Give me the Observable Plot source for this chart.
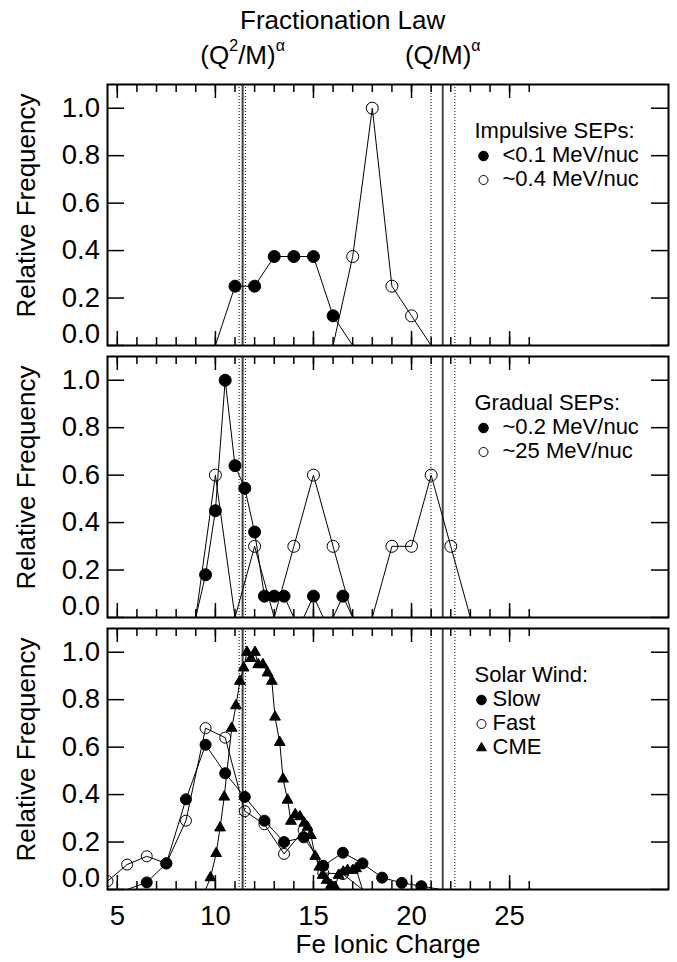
<!DOCTYPE html>
<html>
<head>
<meta charset="utf-8">
<script src="https://cdn.jsdelivr.net/npm/d3@7"></script>
<script src="https://cdn.jsdelivr.net/npm/@observablehq/plot@0.6"></script>
<style>
  html, body { margin: 0; padding: 0; background: #fff; overflow: hidden; }
  #chart { width: 677px; height: 962px; position: relative; }
  #chart svg { display: block; overflow: visible; }
</style>
</head>
<body>
<div id="chart"></div>
<script>
// ---------- data ----------
const xTickLabels = [5, 10, 15, 20, 25];
const xMinorTicks = [5, 6, 7, 8, 9, 10, 11, 12, 13, 14, 15, 16, 17, 18, 19, 20, 21, 22, 23, 24, 25, 26];
const yTicks = [0, 0.2, 0.4, 0.6, 0.8, 1.0];

const lawSolid = [11.39, 21.59];
const lawDotted = [11.21, 11.53, 20.99, 22.21];
const lawLabels = ["(Q^2/M)^α", "(Q/M)^α"];
const titleText = "Fractionation Law";
const yTitle = "Relative Frequency";
const xTitle = "Fe Ionic Charge";

// Panel 1: impulsive SEPs
const impulsiveTitle = "Impulsive SEPs:";
const impLowLabel = "<0.1 MeV/nuc";
const impLowCharge = [10, 11, 12, 13, 14, 15, 16, 17];
const impLowFreq = [0, 0.25, 0.25, 0.375, 0.375, 0.375, 0.125, 0];
const impHighLabel = "~0.4 MeV/nuc";
const impHighCharge = [16, 17, 18, 19, 20, 21];
const impHighFreq = [0, 0.375, 1.0, 0.25, 0.125, 0];

// Panel 2: gradual SEPs
const gradualTitle = "Gradual SEPs:";
const gradLowLabel = "~0.2 MeV/nuc";
const gradLowCharge = [9, 9.5, 10, 10.5, 11, 11.5, 12, 12.5, 13, 13.5, 14, 14.5, 15, 15.5, 16, 16.5, 17];
const gradLowFreq = [0, 0.18, 0.45, 1.0, 0.64, 0.545, 0.36, 0.09, 0.09, 0.09, 0, 0, 0.09, 0, 0, 0.09, 0];
const gradHighLabel = "~25 MeV/nuc";
const gradHighCharge = [9, 10, 11, 12, 13, 14, 15, 16, 17, 18, 19, 20, 21, 22, 23];
const gradHighFreq = [0, 0.6, 0, 0.3, 0, 0.3, 0.6, 0.3, 0, 0, 0.3, 0.3, 0.6, 0.3, 0];

// Panel 3: solar wind
const windTitle = "Solar Wind:";
const slowLabel = "Slow";
const slowCharge = [5.5, 6.5, 7.5, 8.5, 9.5, 10.5, 11.5, 12.5, 13.5, 14.5, 15.5, 16.5, 17.5, 18.5, 19.5, 20.5, 21.5];
const slowFreq = [0, 0.03, 0.11, 0.38, 0.61, 0.49, 0.39, 0.29, 0.20, 0.22, 0.10, 0.155, 0.11, 0.05, 0.028, 0.014, 0];
const fastLabel = "Fast";
const fastCharge = [3.5, 4.5, 5.5, 6.5, 7.5, 8.5, 9.5, 10.5, 11.5, 12.5, 13.5, 14.5, 15.5, 16.5, 17.5];
const fastFreq = [0, 0.035, 0.105, 0.14, 0.11, 0.29, 0.68, 0.64, 0.33, 0.275, 0.15, 0.25, 0.07, 0.065, 0];
const cmeLabel = "CME";
const cmeCharge = [9.5, 9.75, 10.04, 10.24, 10.45, 10.83, 11.05, 11.25, 11.44, 11.61, 11.81, 12.02, 12.18, 12.42, 12.66, 12.88, 13.04, 13.28, 13.45, 13.68, 13.85, 14.07, 14.31, 14.53, 14.7, 14.87, 15.09, 15.3, 15.47, 15.67, 15.89, 16.1, 16.28, 16.52, 16.74, 17.0, 17.17, 17.5];
const cmeFreq = [0, 0.05, 0.152, 0.26, 0.39, 0.68, 0.775, 0.878, 0.934, 1.0, 0.974, 1.0, 0.948, 0.948, 0.913, 0.878, 0.727, 0.62, 0.466, 0.377, 0.288, 0.316, 0.307, 0.28, 0.263, 0.228, 0.14, 0.095, 0.06, 0.039, 0.018, 0.01, 0.06, 0.074, 0.081, 0.081, 0.088, 0];

// ---------- layout ----------
const FONT = "'Liberation Sans', Arial, Helvetica, sans-serif";
const W = 677, ML = 107, MR = 9;
const xDomain = [4.5, 33.1];
const yDomain = [0, 1.1];
const TICKFONT = 27.5;

function pts(xs, ys) { return xs.map((x, i) => ({x, y: ys[i]})); }

function panel({series, legendTitle, markerDx, textDx, height, marginTop, marginBottom, isTop, isBottom}) {
  const frameH = height - marginTop - marginBottom;
  const frameW = W - ML - MR;
  const marks = [
    Plot.ruleX(lawDotted, {x: d => d, stroke: "#000", strokeWidth: 1, strokeDasharray: "1,2"}),
    Plot.ruleX(lawSolid, {x: d => d, stroke: "#444", strokeWidth: 2}),
    Plot.tickX(xMinorTicks, {x: d => d, insetBottom: frameH - 8, strokeWidth: 1.5}),
    Plot.tickX(xMinorTicks, {x: d => d, insetTop: frameH - 8, strokeWidth: 1.5}),
    Plot.tickX(xTickLabels, {x: d => d, insetBottom: frameH - 14, strokeWidth: 1.5}),
    Plot.tickX(xTickLabels, {x: d => d, insetTop: frameH - 14, strokeWidth: 1.5}),
    Plot.tickY(yTicks, {y: d => d, insetRight: frameW - 17, strokeWidth: 1.5}),
    Plot.tickY(yTicks, {y: d => d, insetLeft: frameW - 17, strokeWidth: 1.5}),
    Plot.axisY({anchor: "left", ticks: yTicks.slice(1), tickSize: 0, tickPadding: 7.5, tickFormat: d3.format(".1f"), fontSize: TICKFONT, label: null}),
    Plot.axisY({anchor: "left", ticks: yTicks.slice(0, 1), tickSize: 0, tickPadding: 7.5, tickFormat: d3.format(".1f"), fontSize: TICKFONT, label: null, dy: -11}),
    Plot.text([yTitle], {frameAnchor: "left", rotate: -90, dx: -73, dy: -9.5, textAnchor: "middle", lineAnchor: "bottom", fontSize: 26})
  ];
  for (const s of series) {
    marks.push(Plot.line(s.data, {x: "x", y: "y", stroke: "#000", strokeWidth: 1, clip: true}));
    marks.push(Plot.dot(s.data.filter(d => d.y > 0), {
      x: "x", y: "y", r: s.r, symbol: s.symbol,
      fill: s.filled ? "#000" : "none", stroke: "#000", strokeWidth: 1, clip: true
    }));
  }
  // legend
  marks.push(Plot.text([legendTitle], {frameAnchor: "top-left", dx: 367, dy: 53, lineAnchor: "bottom", textAnchor: "start", fontSize: 22}));
  series.forEach((s) => {
    const k = s.legendIndex;
    marks.push(Plot.dot([s.label], {frameAnchor: "top-left", dx: markerDx, dy: 77 + 24 * k - 5.5, r: s.legendR, symbol: s.symbol,
      fill: s.filled ? "#000" : "none", stroke: "#000", strokeWidth: 1}));
    marks.push(Plot.text([s.label], {frameAnchor: "top-left", dx: textDx, dy: 77 + 24 * k, lineAnchor: "bottom", textAnchor: "start", fontSize: 22}));
  });
  marks.push(Plot.frame({stroke: "#000", strokeWidth: 2}));
  if (isTop) {
    marks.push(Plot.text(lawSolid, {x: d => d, text: (d, i) => lawLabels[i], frameAnchor: "top", dy: -20.7, textAnchor: "middle", lineAnchor: "bottom", fontSize: 26}));
    marks.push(Plot.text([titleText], {x: () => d3.mean(lawSolid), frameAnchor: "top", dy: -55.7, textAnchor: "middle", lineAnchor: "bottom", fontSize: 26}));
  }
  if (isBottom) {
    marks.push(Plot.axisX({anchor: "bottom", ticks: xTickLabels, tickSize: 0, tickPadding: 16, fontSize: TICKFONT, label: null}));
    marks.push(Plot.text([xTitle], {frameAnchor: "bottom", dy: 63.4, textAnchor: "middle", lineAnchor: "bottom", fontSize: 26}));
  }
  const svg = Plot.plot({
    width: W, height, marginLeft: ML, marginRight: MR, marginTop, marginBottom,
    x: isBottom ? {domain: xDomain} : {domain: xDomain, axis: null},
    y: {domain: yDomain},
    style: {fontFamily: FONT, fontSize: "26px", color: "#000", background: "transparent", overflow: "visible"},
    marks
  });
  // superscripts in the fractionation-law labels (written as "^x")
  d3.select(svg).selectAll("text").each(function () {
    const s = this.textContent;
    if (!s || s.indexOf("^") < 0) return;
    const sel = d3.select(this);
    const parts = s.split(/\^(.)/);
    this.textContent = "";
    let shift = 0;
    parts.forEach((p, j) => {
      if (!p) return;
      const sup = j % 2 === 1;
      const target = sup ? -13 : 0;
      const t = sel.append("tspan").text(p).attr("dy", target - shift);
      if (sup) t.attr("font-size", 16);
      shift = target;
    });
  });
  return svg;
}

const chart = document.getElementById("chart");

chart.appendChild(panel({
  series: [
    {data: pts(impLowCharge, impLowFreq), label: impLowLabel, filled: true, symbol: "circle", r: 6, legendR: 4.8, legendIndex: 0},
    {data: pts(impHighCharge, impHighFreq), label: impHighLabel, filled: false, symbol: "circle", r: 6, legendR: 4.5, legendIndex: 1}
  ],
  legendTitle: impulsiveTitle, markerDx: 376, textDx: 395,
  height: 346, marginTop: 84, marginBottom: 1, isTop: true
}));

chart.appendChild(panel({
  series: [
    {data: pts(gradHighCharge, gradHighFreq), label: gradHighLabel, filled: false, symbol: "circle", r: 6, legendR: 4.5, legendIndex: 1},
    {data: pts(gradLowCharge, gradLowFreq), label: gradLowLabel, filled: true, symbol: "circle", r: 6, legendR: 4.8, legendIndex: 0}
  ],
  legendTitle: gradualTitle, markerDx: 376, textDx: 395,
  height: 272, marginTop: 10, marginBottom: 1
}));

chart.appendChild(panel({
  series: [
    {data: pts(fastCharge, fastFreq), label: fastLabel, filled: false, symbol: "circle", r: 5.5, legendR: 4.5, legendIndex: 1},
    {data: pts(cmeCharge, cmeFreq), label: cmeLabel, filled: true, symbol: "triangle", r: 4, legendR: 3.6, legendIndex: 2},
    {data: pts(slowCharge, slowFreq), label: slowLabel, filled: true, symbol: "circle", r: 5.5, legendR: 4.8, legendIndex: 0}
  ],
  legendTitle: windTitle, markerDx: 374, textDx: 385,
  height: 344, marginTop: 10, marginBottom: 73, isBottom: true
}));
</script>
</body>
</html>
